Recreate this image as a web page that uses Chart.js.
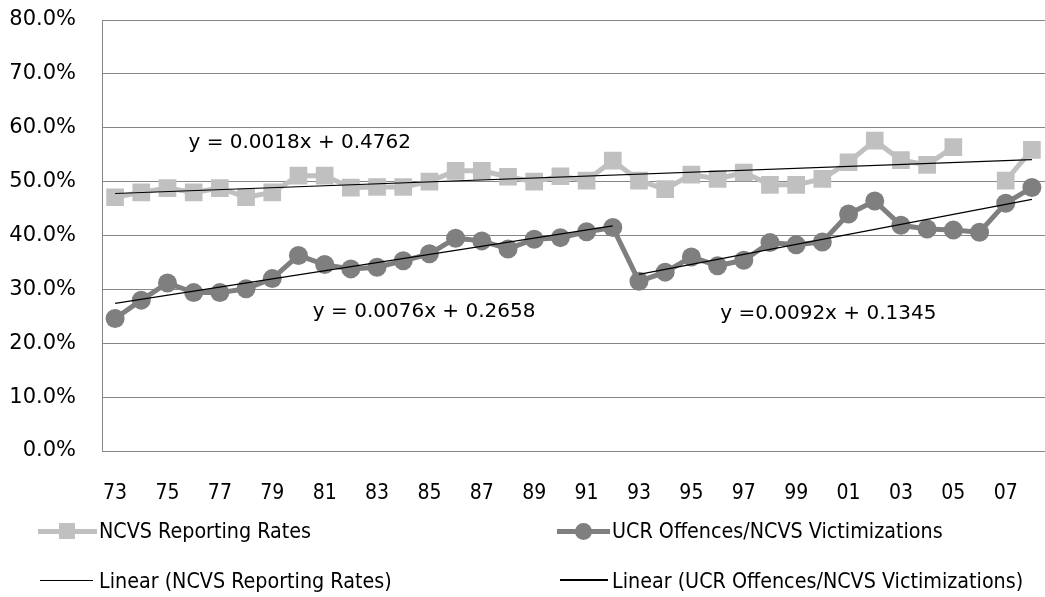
<!DOCTYPE html>
<html lang="en">
<head>
  <meta charset="UTF-8" />
  <title>NCVS Reporting Rates vs UCR/NCVS</title>
  <script src="https://cdn.jsdelivr.net/npm/chart.js"></script>
  <style>
    html, body { margin: 0; padding: 0; background: #fff; }
    #wrap { position: relative; width: 1045px; height: 597px; overflow: hidden; }
    #myChart { position: absolute; left: 0; top: 0; }
    .leg {
      position: absolute;
      font-family: 'DejaVu Sans Condensed', 'Liberation Sans Narrow', 'DejaVu Sans', sans-serif;
      font-size: 21.3px;
      color: #000;
      white-space: nowrap;
      line-height: 24px;
    }
    .mk { position: absolute; }
  </style>
</head>
<body>

<div id="wrap">
  <canvas id="myChart" width="1045" height="597"></canvas>

  <!-- legend, two columns by two rows -->
  <div class="mk" style="left:38px; top:529px; width:59px; height:5px; background:#c0c0c0;"></div>
  <div class="mk" style="left:59px; top:523px; width:16px; height:16px; background:#c0c0c0;"></div>
  <div class="leg" style="left:99px; top:519px;">NCVS Reporting Rates</div>

  <div class="mk" style="left:557px; top:529px; width:53px; height:5px; background:#7f7f7f;"></div>
  <div class="mk" style="left:575px; top:523px; width:17px; height:17px; border-radius:50%; background:#7f7f7f;"></div>
  <div class="leg" style="left:612px; top:519px;">UCR Offences/NCVS Victimizations</div>

  <div class="mk" style="left:40px; top:580px; width:53px; height:1px; background:#000;"></div>
  <div class="leg" style="left:99px; top:569px;">Linear (NCVS Reporting Rates)</div>

  <div class="mk" style="left:560px; top:579px; width:48px; height:2px; background:#000;"></div>
  <div class="leg" style="left:612px; top:569px;">Linear (UCR Offences/NCVS Victimizations)</div>
</div>

<script>
  // years 1973 - 2008
  const years = ['73','74','75','76','77','78','79','80','81','82','83','84','85','86','87','88','89','90',
                 '91','92','93','94','95','96','97','98','99','00','01','02','03','04','05','06','07','08'];

  // NCVS reporting rates (%), no value for 06
  const ncvsRates = [47.1, 48.0, 48.8, 48.0, 48.8, 47.1, 48.0, 51.1, 51.1, 48.9, 49.0, 49.0, 50.0, 52.0, 52.0, 50.9, 50.0, 51.0,
                     50.2, 53.9, 50.2, 48.6, 51.3, 50.5, 51.7, 49.4, 49.4, 50.5, 53.6, 57.6, 54.0, 53.1, 56.4, null, 50.2, 55.9];

  // UCR offences / NCVS victimizations (%)
  const ucrRatio = [24.6, 28.0, 31.2, 29.4, 29.4, 30.1, 32.0, 36.3, 34.6, 33.8, 34.1, 35.3, 36.6, 39.5, 39.0, 37.5, 39.3, 39.6,
                    40.7, 41.5, 31.5, 33.2, 36.0, 34.4, 35.4, 38.7, 38.3, 38.8, 44.0, 46.4, 41.9, 41.2, 41.0, 40.6, 46.0, 48.9];

  // linear trend end points (%)
  const ncvsTrendEnds = [47.8, 54.1];      // 73 -> 08
  const ucrTrend1Ends = [27.4, 41.8];      // 73 -> 92
  const ucrTrend2Ends = [32.8, 46.7];      // 93 -> 08

  const yTicks = [0, 10, 20, 30, 40, 50, 60, 70, 80];

  function trendSeries(fromIdx, toIdx, ends) {
    const arr = new Array(years.length).fill(null);
    arr[fromIdx] = ends[0];
    arr[toIdx] = ends[1];
    return arr;
  }

  const i92 = years.indexOf('92');
  const i93 = years.indexOf('93');
  const last = years.length - 1;

  // no extra room around the axes for overhanging labels
  function noPad(axis) {
    axis.paddingTop = 0;
    axis.paddingBottom = 0;
    axis.paddingLeft = 0;
    axis.paddingRight = 0;
  }

  // trend equations written on the plot
  const equationLabels = {
    id: 'equationLabels',
    afterDatasetsDraw(chart) {
      const { ctx, scales: { x, y } } = chart;
      const items = [
        { text: 'y = 0.0018x + 0.4762', xi: 2.8, yv: 57.2 },
        { text: 'y = 0.0076x + 0.2658', xi: 7.55, yv: 25.8 },
        { text: 'y =0.0092x + 0.1345', xi: 23.1, yv: 25.5 }
      ];
      ctx.save();
      ctx.font = '20px "DejaVu Sans", sans-serif';
      ctx.fillStyle = '#000';
      ctx.textBaseline = 'middle';
      ctx.textAlign = 'left';
      items.forEach(it => {
        ctx.fillText(it.text, x.getPixelForValue(it.xi), y.getPixelForValue(it.yv));
      });
      ctx.restore();
    }
  };

  const ctx = document.getElementById('myChart').getContext('2d');

  const myChart = new Chart(ctx, {
    type: 'line',
    data: {
      labels: years,
      datasets: [
        {
          label: 'Linear (NCVS Reporting Rates)',
          data: trendSeries(0, last, ncvsTrendEnds),
          borderColor: '#000',
          borderWidth: 1.2,
          pointRadius: 0,
          spanGaps: true,
          order: 0
        },
        {
          label: 'Linear (UCR Offences/NCVS Victimizations)',
          data: trendSeries(0, i92, ucrTrend1Ends),
          borderColor: '#000',
          borderWidth: 1.2,
          pointRadius: 0,
          spanGaps: true,
          order: 0
        },
        {
          label: 'Linear (UCR Offences/NCVS Victimizations) 2',
          data: trendSeries(i93, last, ucrTrend2Ends),
          borderColor: '#000',
          borderWidth: 1.2,
          pointRadius: 0,
          spanGaps: true,
          order: 0
        },
        {
          label: 'NCVS Reporting Rates',
          data: ncvsRates,
          borderColor: '#c0c0c0',
          backgroundColor: '#c0c0c0',
          borderWidth: 5,
          pointStyle: 'rect',
          pointRadius: 12.5,
          pointBorderWidth: 0,
          spanGaps: false,
          order: 2
        },
        {
          label: 'UCR Offences/NCVS Victimizations',
          data: ucrRatio,
          borderColor: '#7f7f7f',
          backgroundColor: '#7f7f7f',
          borderWidth: 5,
          pointStyle: 'circle',
          pointRadius: 9.5,
          pointBorderWidth: 0,
          order: 1
        }
      ]
    },
    options: {
      responsive: false,
      animation: false,
      layout: { autoPadding: false, padding: { left: 10, right: 0, top: 20, bottom: 86 } },
      scales: {
        x: {
          offset: true,
          afterFit: axis => { axis.height = 60; noPad(axis); },
          grid: { display: false, drawTicks: false },
          border: { display: false },
          ticks: {
            autoSkip: false,
            maxRotation: 0,
            padding: 30,
            color: '#000',
            font: { family: '"DejaVu Sans Condensed", "Liberation Sans Narrow", sans-serif', size: 21 },
            callback: (val, idx) => idx % 2 === 0 ? years[idx] : ''
          }
        },
        y: {
          min: 0,
          max: 80,
          afterFit: axis => { axis.width = 92; noPad(axis); },
          afterBuildTicks: axis => { axis.ticks = yTicks.map(v => ({ value: v })); },
          grid: { color: '#868686', lineWidth: 1, drawTicks: false },
          border: { display: true, color: '#868686', width: 1 },
          ticks: {
            padding: 26,
            color: '#000',
            font: { family: '"DejaVu Sans", sans-serif', size: 21 },
            callback: v => v.toFixed(1) + '%'
          }
        }
      },
      plugins: {
        legend: { display: false },
        tooltip: { enabled: false }
      }
    },
    plugins: [equationLabels]
  });
</script>

</body>
</html>
